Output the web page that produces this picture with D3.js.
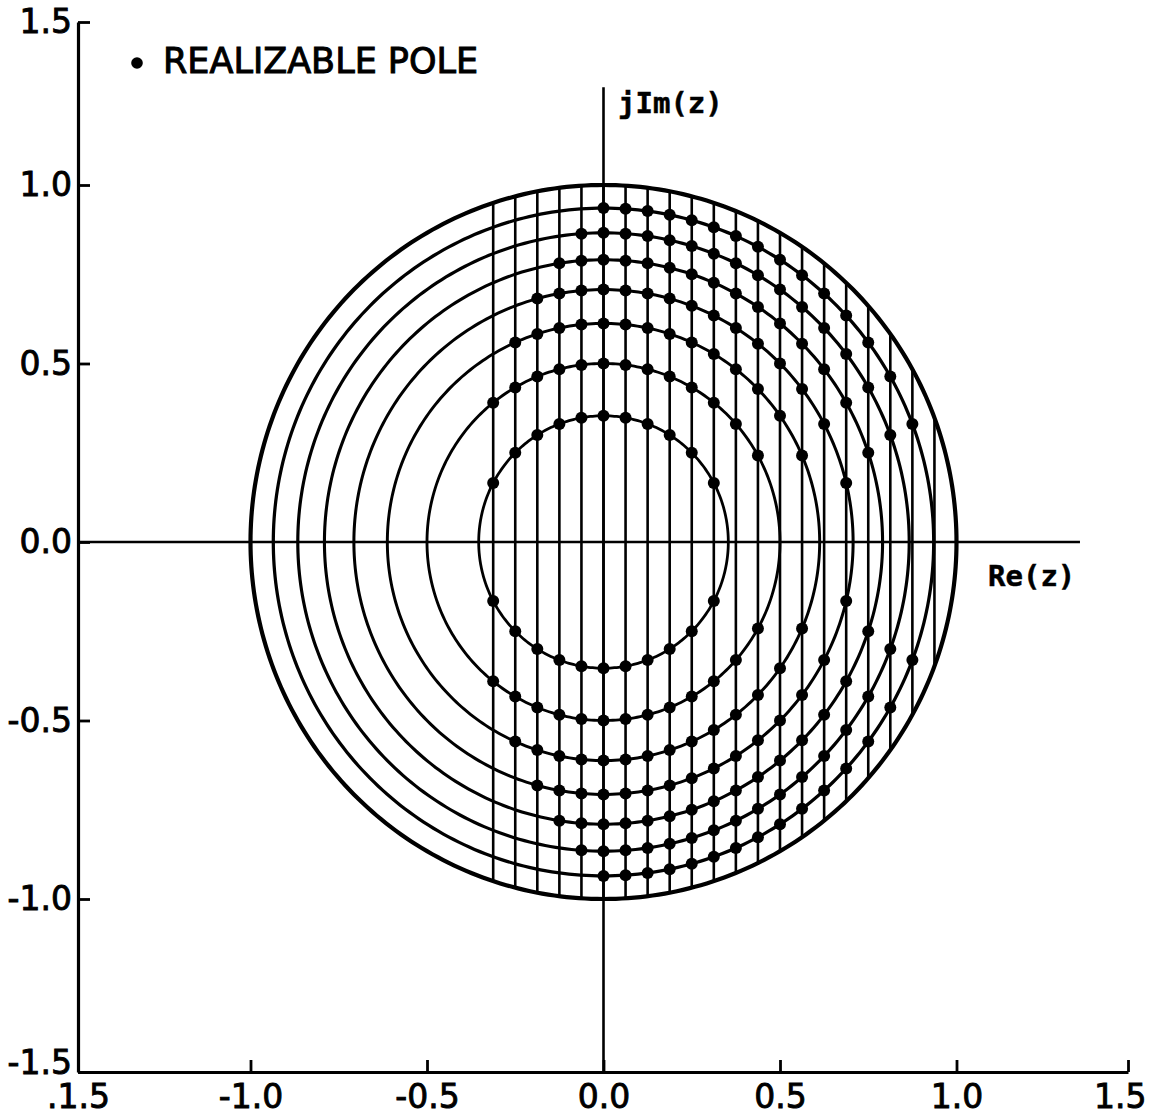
<!DOCTYPE html>
<html>
<head>
<meta charset="utf-8">
<script src="https://cdn.jsdelivr.net/npm/d3@7"></script>
<style>
  html, body { margin: 0; padding: 0; background: #fff; }
  svg { display: block; }
</style>
</head>
<body>
<svg id="chart" width="1151" height="1118"></svg>
<script>
// ---------------- DATA ----------------
// Circles |z|^2 = k/8 (k = 1..7), plus the unit circle (k = 8)
const circleK = [1, 2, 3, 4, 5, 6, 7];
const unitK = 8;
// Vertical lines Re(z) = m/16
const lineM = [-5, -4, -3, -2, -1, 0, 1, 2, 3, 4, 5, 6, 7, 8, 9, 10, 11, 12, 13, 14, 15];
// Realizable poles on each circle k: Re(z) = m/16 for the listed m (both signs of Im)
const poleM = {
  1: [-5, -4, -3, -2, -1, 0, 1, 2, 3, 4, 5],
  2: [-5, -4, -3, -2, -1, 0, 1, 2, 3, 4, 5, 6, 7],
  3: [-4, -3, -2, -1, 0, 1, 2, 3, 4, 5, 6, 7, 8, 9],
  4: [-3, -2, -1, 0, 1, 2, 3, 4, 5, 6, 7, 8, 9, 10, 11],
  5: [-2, -1, 0, 1, 2, 3, 4, 5, 6, 7, 8, 9, 10, 11, 12],
  6: [-1, 0, 1, 2, 3, 4, 5, 6, 7, 8, 9, 10, 11, 12, 13],
  7: [0, 1, 2, 3, 4, 5, 6, 7, 8, 9, 10, 11, 12, 13, 14]
};
// Axis ticks
const xTickValues = [-1.5, -1.0, -0.5, 0.0, 0.5, 1.0, 1.5];
const xTickLabels = [".1.5", "-1.0", "-0.5", "0.0", "0.5", "1.0", "1.5"];
const yTickValues = [1.5, 1.0, 0.5, 0.0, -0.5, -1.0, -1.5];
const yTickLabels = ["1.5", "1.0", "0.5", "0.0", "-0.5", "-1.0", "-1.5"];
const imAxisTop = 1.3;     // extent of the jIm(z) axis line
const reAxisRight = 1.36;  // extent of the Re(z) axis line
const legendText = "REALIZABLE POLE";

// ---------------- SCALES ----------------
const svg = d3.select("#chart");
const x = d3.scaleLinear().domain([-1.5, -1, 1, 1.5]).range([78, 250.5, 956.5, 1128]);
const y = d3.scaleLinear().domain([-1.5, -1, 1, 1.5]).range([1072, 899, 185, 22]);

const ink = "#000";
const g = svg.append("g");

// ---------------- VERTICAL LINES ----------------
g.append("g").selectAll("line").data(lineM).join("line")
  .attr("x1", m => x(m / 16)).attr("x2", m => x(m / 16))
  .attr("y1", m => y(Math.sqrt(Math.max(0, 1 - (m / 16) ** 2))))
  .attr("y2", m => y(-Math.sqrt(Math.max(0, 1 - (m / 16) ** 2))))
  .attr("stroke", ink).attr("stroke-width", 2.6);

// ---------------- CIRCLES ----------------
const angles = d3.range(0, 360, 1).map(a => a * Math.PI / 180);
const circlePath = k => {
  const r = Math.sqrt(k / 8);
  return d3.line().curve(d3.curveLinearClosed)
    .x(t => x(r * Math.cos(t))).y(t => y(r * Math.sin(t)))(angles);
};
g.append("g").selectAll("path").data(circleK).join("path")
  .attr("d", circlePath).attr("fill", "none")
  .attr("stroke", ink).attr("stroke-width", k => 2.7 + k * 0.08);
g.append("path").attr("d", circlePath(unitK)).attr("fill", "none")
  .attr("stroke", ink).attr("stroke-width", 4.2);

// ---------------- COORDINATE AXES ----------------
g.append("line").attr("x1", x(-1.5)).attr("x2", x(reAxisRight))
  .attr("y1", y(0)).attr("y2", y(0)).attr("stroke", ink).attr("stroke-width", 2.6);
g.append("line").attr("x1", x(0)).attr("x2", x(0))
  .attr("y1", y(imAxisTop)).attr("y2", y(-1.5)).attr("stroke", ink).attr("stroke-width", 2.6);

// ---------------- POLES ----------------
const poles = [];
circleK.forEach(k => {
  poleM[k].forEach(m => {
    const re = m / 16;
    const im = Math.sqrt(k / 8 - re * re);
    poles.push([re, im], [re, -im]);
  });
});
g.append("g").selectAll("circle").data(poles).join("circle")
  .attr("cx", d => x(d[0])).attr("cy", d => y(d[1])).attr("r", 6).attr("fill", ink);

// ---------------- FRAME AXES ----------------
const fontMain = "'DejaVu Sans', 'Liberation Sans', sans-serif";
const leftAxis = d3.axisLeft(y).tickValues(yTickValues)
  .tickFormat((d, i) => yTickLabels[i]).tickSize(-12).tickSizeOuter(0).tickPadding(6);
const la = svg.append("g").attr("transform", `translate(${x(-1.5)},0)`).call(leftAxis);
const bottomAxis = d3.axisBottom(x).tickValues(xTickValues)
  .tickFormat((d, i) => xTickLabels[i]).tickSize(-12).tickSizeOuter(0).tickPadding(13);
const ba = svg.append("g").attr("transform", `translate(0,${y(-1.5)})`).call(bottomAxis);
[la, ba].forEach(a => {
  a.select(".domain").attr("stroke", ink).attr("stroke-width", 3.2);
  a.selectAll(".tick line").attr("stroke", ink).attr("stroke-width", 2.8);
  a.selectAll(".tick text").attr("fill", ink)
    .style("font-family", fontMain).style("font-size", "33px")
    .attr("stroke", ink).attr("stroke-width", 0.9);
});
la.selectAll(".tick text").filter(d => d === -1.5).attr("dy", "0.05em");
ba.selectAll(".tick text").filter(d => d === 1.5).attr("dx", "-0.25em");

// ---------------- LABELS ----------------
const fontMono = "'DejaVu Sans Mono', 'Liberation Mono', monospace";
svg.append("text").attr("x", 618).attr("y", 113).text("jIm(z)")
  .style("font-family", fontMono).style("font-size", "29px").style("font-weight", "bold")
  .attr("fill", ink).attr("stroke", ink).attr("stroke-width", 0.5);
svg.append("text").attr("x", 988).attr("y", 586).text("Re(z)")
  .style("font-family", fontMono).style("font-size", "29px").style("font-weight", "bold")
  .attr("fill", ink).attr("stroke", ink).attr("stroke-width", 0.5);

// Legend
svg.append("circle").attr("cx", 137).attr("cy", 63).attr("r", 5.8).attr("fill", ink);
svg.append("text").attr("x", 163).attr("y", 73).text(legendText)
  .style("font-family", fontMain).style("font-size", "35px")
  .attr("fill", ink).attr("stroke", ink).attr("stroke-width", 1);
</script>
</body>
</html>
